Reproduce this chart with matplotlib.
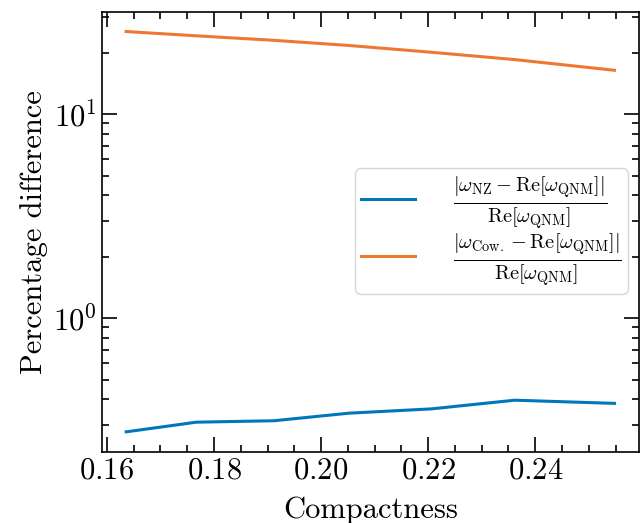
import matplotlib
matplotlib.use("Agg")
import matplotlib.pyplot as plt
from matplotlib.ticker import MultipleLocator

compactness = [0.1636, 0.1767, 0.1912, 0.2052, 0.2206, 0.2362, 0.2548]
diff_nz = [0.277, 0.309, 0.314, 0.342, 0.359, 0.396, 0.382]
diff_cowling = [25.4, 24.2, 23.0, 21.7, 20.1, 18.5, 16.4]

label_nz = r'$\frac{|\omega_{\rm NZ} - {\rm Re}[\omega_{\rm QNM}]|}{{\rm Re}[\omega_{\rm QNM}]}$'
label_cow = r'$\frac{|\omega_{\rm Cow.} - {\rm Re}[\omega_{\rm QNM}]|}{{\rm Re}[\omega_{\rm QNM}]}$'

plt.rcParams['font.family'] = 'serif'
plt.rcParams['font.serif'] = ['cmr10']
plt.rcParams['mathtext.fontset'] = 'cm'
plt.rcParams['axes.formatter.use_mathtext'] = True
plt.rcParams['font.size'] = 22

fig = plt.figure(figsize=(6.44, 5.23), dpi=100)
ax = fig.add_axes([0.158, 0.136, 0.834, 0.842])

ax.plot(compactness, diff_nz, color='#0077BB', lw=2.2, label=label_nz)
ax.plot(compactness, diff_cowling, color='#EE7733', lw=2.2, label=label_cow)
ax.set_yscale('log')

ax.xaxis.set_major_locator(MultipleLocator(0.02))
ax.xaxis.set_minor_locator(MultipleLocator(0.005))
ax.tick_params(which='both', direction='in', top=True, right=True, width=1.2)
ax.tick_params(which='major', length=10.5)
ax.tick_params(which='minor', length=5.3)
for s in ax.spines.values():
    s.set_linewidth(1.2)

ax.set_xlabel('Compactness', labelpad=9)
ax.set_ylabel('Percentage difference')

ax.legend(loc='center right', bbox_to_anchor=(0.9795, 0.502), borderaxespad=0,
          fontsize=21, borderpad=0.2, labelspacing=0.0, handlelength=1.85,
          handletextpad=1.3)

fig.savefig('out.png', dpi=100)
